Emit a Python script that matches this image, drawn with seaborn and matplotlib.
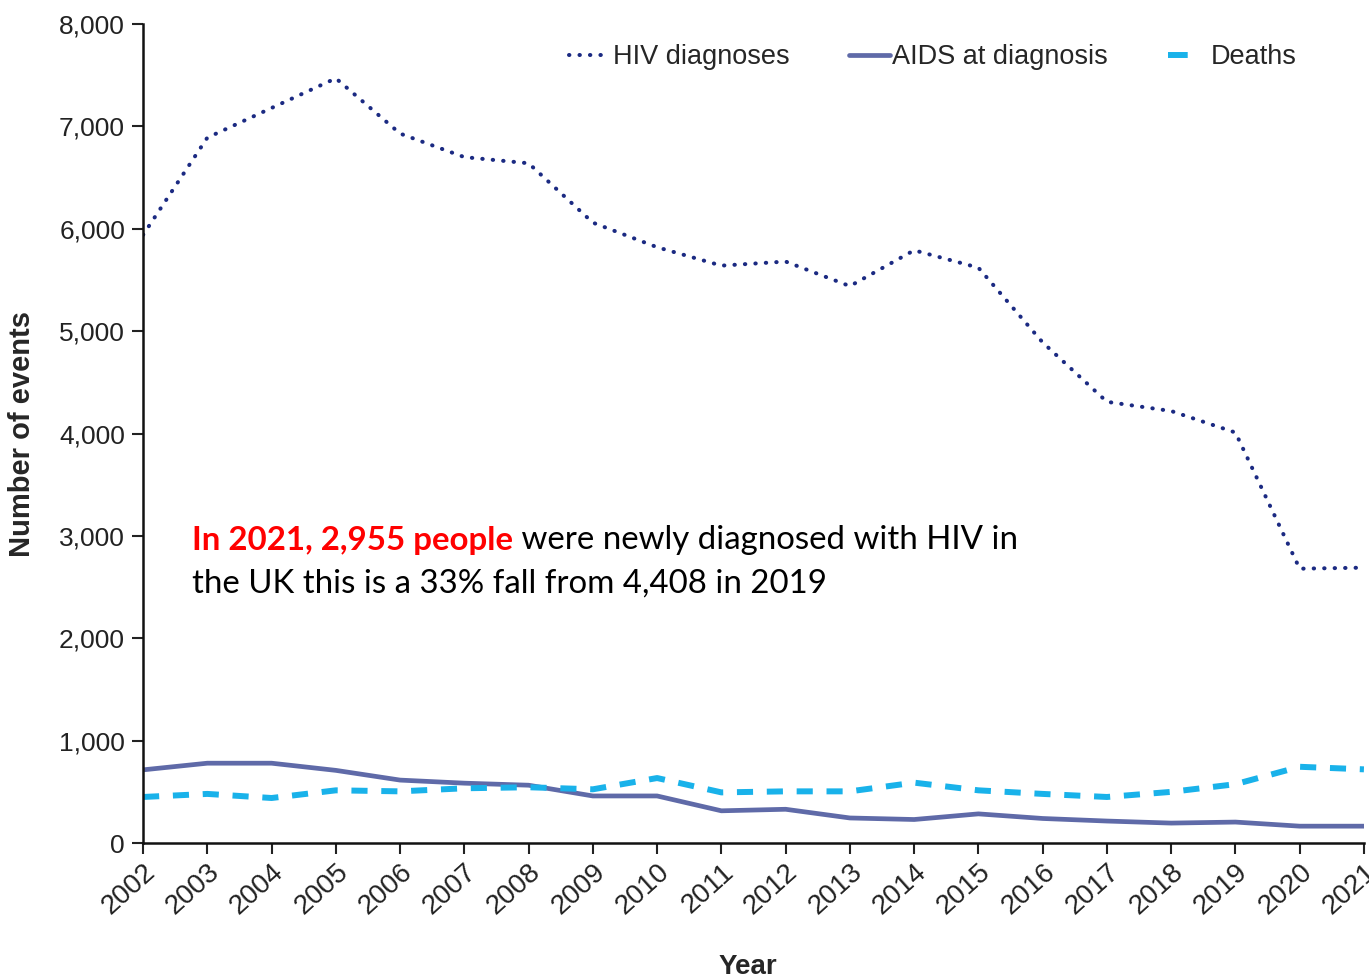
import numpy as np
import pandas as pd
import matplotlib
matplotlib.use('Agg')
import matplotlib.pyplot as plt
import matplotlib.ticker as mticker
import seaborn as sns

# Данные
years = list(range(2002, 2022))
hiv_diagnoses = [5940, 6890, 7180, 7470, 6930, 6700, 6640, 6060, 5820, 5640,
                 5680, 5440, 5790, 5620, 4890, 4310, 4220, 4010, 2680, 2690]
aids_at_diagnosis = [715, 780, 780, 710, 615, 585, 565, 460, 460, 315,
                     330, 245, 230, 285, 240, 215, 195, 205, 165, 165]
deaths = [450, 480, 440, 515, 505, 535, 545, 525, 635, 495,
          505, 505, 590, 515, 480, 450, 500, 575, 745, 720]

sns.set_theme(style='ticks')
plt.rcParams['font.family'] = ['Liberation Sans', 'DejaVu Sans']

df = pd.DataFrame({'Year': years, 'HIV': hiv_diagnoses,
                   'AIDS': aids_at_diagnosis, 'Deaths': deaths})

fig = plt.figure(figsize=(13.69, 9.77), dpi=100)
ax = fig.add_axes([0.1045, 0.1371, 0.8918, 0.8383])

sns.lineplot(data=df, x='Year', y='HIV', ax=ax, color='#1b2a82', lw=2.9,
             linestyle=(0, (0.1, 2.5)), dash_capstyle='round', label='HIV diagnoses')
sns.lineplot(data=df, x='Year', y='AIDS', ax=ax, color='#5f6aa8', lw=3.4,
             label='AIDS at diagnosis')
sns.lineplot(data=df, x='Year', y='Deaths', ax=ax, color='#19b2ea', lw=4.3,
             linestyle=(0, (2.7, 2.3)), label='Deaths')

ax.set_xlim(2002, 2021)
ax.set_ylim(0, 8000)
ax.set_xticks(years)
ax.set_yticks(range(0, 8001, 1000))
ax.yaxis.set_major_formatter(mticker.FuncFormatter(lambda v, p: f'{int(v):,}'))
ax.tick_params(axis='both', labelsize=19, colors='#222222', length=8, width=1.5, direction='out')
ax.tick_params(axis='y', pad=5)
plt.setp(ax.get_xticklabels(), rotation=42, ha='right', rotation_mode='anchor',
         family=['Liberation Sans Narrow', 'Liberation Sans'], fontsize=20)
for s in ['top', 'right']:
    ax.spines[s].set_visible(False)
for s in ['left', 'bottom']:
    ax.spines[s].set_color('#111111')
    ax.spines[s].set_linewidth(1.8)

ax.set_xlabel('Year', fontsize=20, fontweight='bold')
ax.set_ylabel('Number of events', fontsize=21, fontweight='bold')
ax.xaxis.set_label_coords(0.495, -0.135)
ax.yaxis.set_label_coords(-0.088, 0.5)

leg = ax.legend(loc='upper right', bbox_to_anchor=(0.965, 1.005), ncol=3, frameon=False,
                fontsize=19.5, handlelength=1.5, handletextpad=0.1, columnspacing=2.2)
# в легенде у Deaths один короткий штрих
leg.get_lines()[2].set_linestyle((0, (3.3, 10)))

# Аннотация: красная жирная часть + обычный текст
t1 = ax.text(0.04, 0.358, 'In 2021, 2,955 people', transform=ax.transAxes,
             fontsize=23.8, fontweight='bold', color='#ff0000', family='Lato', va='baseline')
ax.annotate(' were newly diagnosed with HIV in', xy=(1, 0), xycoords=t1,
            fontsize=23.8, color='black', family='Lato', va='bottom')
ax.text(0.04, 0.306, 'the UK this is a 33% fall from 4,408 in 2019', transform=ax.transAxes,
        fontsize=23.8, color='black', family='Lato', va='baseline')

plt.savefig('out.png', dpi=100)
plt.close('all')
